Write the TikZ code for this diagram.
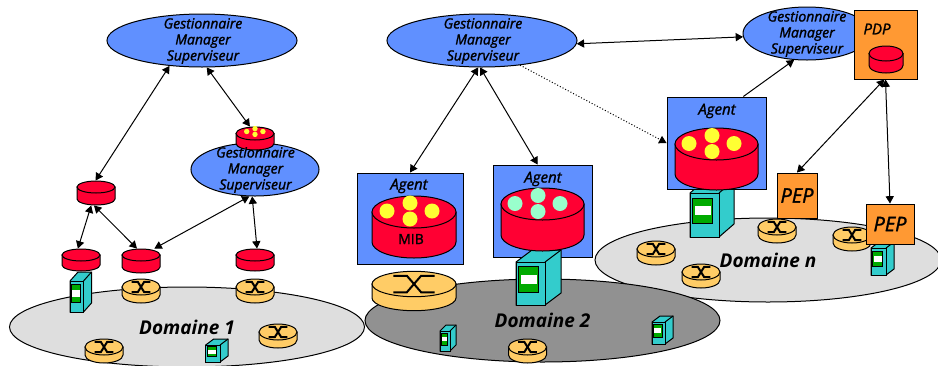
\documentclass[tikz,border=0pt]{standalone}
\usepackage{fontspec}
\setmainfont{Open Sans}
\newfontfamily\handfont{Open Sans}[FakeBold=1.5]
\usepgflibrary{arrows}
\usetikzlibrary{shapes.geometric}

\definecolor{mgrblue}{HTML}{6090FF}
\definecolor{diskred}{HTML}{FF0033}
\definecolor{routerorange}{HTML}{FFCC66}
\definecolor{boxorange}{HTML}{FF9933}
\definecolor{serverteal}{HTML}{33CCCC}
\definecolor{screengreen}{HTML}{00AA00}
\definecolor{beadyellow}{HTML}{FFFF33}
\definecolor{beadgreen}{HTML}{99FFCC}

% name, x, y of top ellipse, rx, ry, depth, colour
\newcommand{\drum}[7]{
  \draw[fill=#7] ({#2-#4},#3) -- ({#2-#4},{#3+#6}) arc[start angle=180,end angle=360,x radius=#4pt,y radius=#5pt] -- ({#2+#4},#3) -- cycle;
  \draw[fill=#7] (#2,#3) ellipse[x radius=#4pt,y radius=#5pt];
  \node[inner sep=0pt,minimum width={2*#4},minimum height={2*#5+#6}] (#1) at (#2,{#3+#6/2}) {};
}
% name, x, y, rx, ry, depth
\newcommand{\router}[6]{
  \drum{#1}{#2}{#3}{#4}{#5}{#6}{routerorange}
  \draw[line width=2pt] ({#2-.49*#4},{#3-.65*#5}) -- ({#2-.17*#4},{#3-.65*#5}) -- ({#2+.17*#4},{#3+.65*#5}) -- ({#2+.49*#4},{#3+.65*#5});
  \draw[line width=2pt] ({#2-.49*#4},{#3+.65*#5}) -- ({#2-.17*#4},{#3+.65*#5}) -- ({#2+.17*#4},{#3-.65*#5}) -- ({#2+.49*#4},{#3-.65*#5});
}
% x, y, w, h, dx, dy
\newcommand{\server}[6]{
  \draw[fill=serverteal] (#1,#2) -- ({#1+#5},{#2-#6}) -- ({#1+#3+#5},{#2-#6}) -- ({#1+#3+#5},{#2+#4-#6}) -- ({#1+#3},{#2+#4}) -- (#1,{#2+#4}) -- cycle;
  \draw[fill=serverteal] (#1,#2) rectangle ({#1+#3},{#2+#4});
  \draw ({#1+#3},#2) -- ({#1+#3+#5},{#2-#6});
  \draw[fill=screengreen] ({#1+.1*#3},{#2+.116*#4}) rectangle ({#1+.79*#3},{#2+.7*#4});
  \fill[white] ({#1+.17*#3},{#2+.295*#4}) rectangle ({#1+.72*#3},{#2+.51*#4});
}
% x, y, scale, colour
\newcommand{\beads}[4]{
  \foreach \dx/\dy in {-23/0,0/-8,22/0,0/8}
    \fill[#4] ({#1+\dx*#3},{#2+\dy*#3}) circle[radius={7.5*#3 pt}];
}
\newcommand{\mgrtext}{Gestionnaire\\Manager\\Superviseur}

\begin{document}
\begin{tikzpicture}[x=1pt,y=-1pt,line width=1pt]
\tikzstyle{mgr}=[draw, shape=ellipse, fill=mgrblue, inner sep=0pt];
\tikzstyle{mgrlabel}=[align=center, inner sep=0pt, font=\fontsize{14}{16}\selectfont\handfont\itshape];
\tikzstyle{domaine}=[draw, shape=ellipse, inner sep=0pt, font=\fontsize{19}{22}\selectfont\bfseries\itshape];
\tikzstyle{agentbox}=[draw, fill=mgrblue, inner sep=0pt];
\tikzstyle{agentlabel}=[inner sep=0pt, font=\fontsize{15}{17}\selectfont\handfont\itshape];
\tikzstyle{pep}=[draw, fill=boxorange, inner sep=0pt, font=\fontsize{20}{22}\selectfont\handfont\itshape];
\clip (0,0) rectangle (938,365);

   % domains
   \node[domaine, fill=black!13, minimum width=355pt, minimum height=80pt] (dom1) at (187,327) {Domaine 1};
   \node[domaine, fill=black!13, minimum width=346pt, minimum height=84pt] (domn) at (768,260) {Domaine n};
   \node[domaine, fill=black!43, minimum width=355pt, minimum height=83pt] (dom2) at (542.5,320.5) {Domaine 2};

   % domain 1
   \router{rta}{141}{287}{19}{8}{8}
   \router{rtb}{255}{287}{19}{8}{8}
   \router{rtc}{278}{332}{19}{8}{8}
   \router{rtd}{104}{347}{19}{8}{8}
   \server{70}{281}{13.5}{31}{8}{9}
   \server{205.7}{345}{14.3}{17}{8}{6}
   \drum{diskb}{96}{187}{19}{6}{12}{diskred}
   \drum{diskc}{81}{255}{19}{6}{10}{diskred}
   \drum{diskd}{141}{255}{19}{6}{12}{diskred}
   \drum{diske}{255}{255}{19}{6}{10}{diskred}
   \node[mgr, minimum width=190pt, minimum height=53pt] (mgra) at (202,40.5) {};
   \node[mgrlabel] (mgratxt) at (203,41) {\mgrtext};
   \node[mgr, minimum width=128pt, minimum height=53pt] (mgrb) at (255,169.5) {};
   \drum{diska}{255}{133.5}{19}{6.5}{10}{diskred}
   \beads{255}{131.5}{.36}{beadyellow}
   \node[mgrlabel] (mgrbtxt) at (255.5,170) {\mgrtext};

   % domain 2
   \node[mgr, minimum width=190pt, minimum height=53pt] (mgrc) at (482,40.5) {};
   \node[mgrlabel] (mgrctxt) at (483,41) {\mgrtext};
   \node[agentbox, minimum width=106pt, minimum height=91pt] (agenta) at (410,218.5) {};
   \node[agentlabel] (agentatxt) at (409,186) {Agent};
   \drum{diskf}{414}{212}{42}{16}{30}{diskred}
   \beads{410}{211}{1}{beadyellow}
   \node[inner sep=0pt, font=\fontsize{14}{16}\selectfont\handfont] (mib) at (411,239) {MIB};
   \router{rte}{414}{284}{42}{12.7}{14}
   \router{rtf}{527.5}{347}{19}{8}{8}
   \server{440}{331}{10}{20}{6}{6}
   \server{652}{322}{13}{22}{8}{6}
   \node[agentbox, minimum width=99pt, minimum height=92pt] (agentb) at (542.5,211) {};
   \node[agentlabel] (agentbtxt) at (543,179) {Agent};
   \server{516}{262}{29}{43}{16}{12}
   \drum{diskg}{542.5}{204}{41.5}{16}{31}{diskred}
   \beads{538}{203.5}{1}{beadgreen}

   % domain n
   \router{rtg}{777}{227}{19}{8}{8}
   \router{rth}{852}{235}{19}{8}{8}
   \router{rti}{656}{249}{19}{8}{8}
   \router{rtj}{701}{272}{19}{8}{8}
   \server{871}{248}{15}{27}{8}{6}
   \server{690}{193}{29}{44}{15}{13}
   \node[agentbox, minimum width=99pt, minimum height=92pt] (agentc) at (716.5,143) {};
   \node[agentlabel] (agentctxt) at (717,111) {Agent};
   \drum{diskh}{716.5}{144}{41.5}{16}{30}{diskred}
   \beads{712}{143.5}{1}{beadyellow}
   \node[mgr, minimum width=128pt, minimum height=53pt] (mgrd) at (807,33.5) {};
   \node[mgrlabel] (mgrdtxt) at (807,34) {\mgrtext};
   \node[agentbox, fill=boxorange, minimum width=63pt, minimum height=69pt] (pdp) at (885.5,44.5) {};
   \node[agentlabel] (pdptxt) at (877,29) {PDP};
   \drum{diski}{886}{53.5}{17}{7.5}{12}{diskred}
   \node[pep, minimum width=40pt, minimum height=45pt] (pepa) at (797,195.5) {PEP};
   \node[pep, minimum width=48pt, minimum height=40pt] (pepb) at (890,224) {PEP};

   % connectors
  \foreach \from/\to in {mgra.218/diskb.92,mgra.280/diska.113,diskb.249/diskc.105,diskb.261/diskd.108,mgrb.258/diskd.43,mgrb.264/diske.80,mgrc.262/agenta.north,mgrc.266/agentb.96,mgrc.358/mgrd.183,pdp.268/pepa.north,pdp.270/pepb.north}
    \draw[triangle 60-triangle 60] (\from) -- (\to);
  \draw[-triangle 60] (agentc.60) -- (mgrd.244);
  \draw[-triangle 60, dotted] (mgrc.327) -- (agentc.west);
\end{tikzpicture}
\end{document}
